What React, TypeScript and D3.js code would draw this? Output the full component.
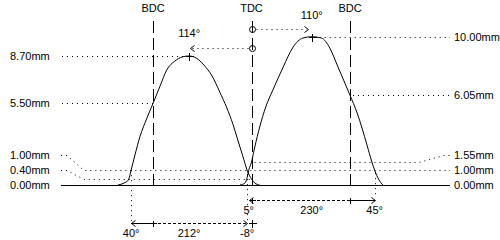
import React from 'react';
import * as d3 from 'd3';

// crank positions
const positionAngles = [-180, 0, 180];
const positionLabels = ['BDC', 'TDC', 'BDC'];

// exhaust lobe (left) : crank angle (deg, relative to TDC) vs lift (mm)
const exhaustAngle = [-244, -233, -225, -220, -213, -204, -191, -180, -167, -155, -140, -127, -114, -101, -87, -72, -58, -45, -34, -25, -16, -8, 0, 6, 15];
const exhaustLift = [0, 0.13, 0.34, 1.0, 2.02, 3.24, 4.52, 5.5, 6.68, 7.75, 8.36, 8.63, 8.7, 8.56, 8.09, 7.35, 6.27, 5.19, 4.11, 3.03, 1.96, 1.0, 0.4, 0.13, 0];

// intake lobe (right)
const intakeAngle = [-21, -12, -8, -5, 0, 6, 15, 26, 39, 58, 76, 94, 110, 128, 143, 158, 180, 193, 202, 211, 220, 225, 233, 240];
const intakeLift = [0, 0.13, 0.5, 1.0, 1.55, 2.56, 3.91, 5.26, 6.4, 7.96, 9.3, 9.91, 10, 9.91, 9.24, 7.96, 6.05, 4.86, 3.84, 2.7, 1.55, 1.0, 0.34, 0];

// events: open, peak, close
const exhaustEvents = [-220, -114, -8];
const exhaustEventLabels = ['40°', '114°', '-8°'];
const exhaustDurationLabel = '212°';
const intakeEvents = [-5, 110, 225];
const intakeEventLabels = ['5°', '110°', '45°'];
const intakeDurationLabel = '230°';

// lift tick labels
const leftLiftValues = [8.7, 5.5, 1.0, 0.4, 0];
const leftLiftLabels = ['8.70mm', '5.50mm', '1.00mm', '0.40mm', '0.00mm'];
const leftLeaderAngles = [-114, -180, 0, 0, NaN];
const rightLiftValues = [10, 6.05, 1.55, 1.0, 0];
const rightLiftLabels = ['10.00mm', '6.05mm', '1.55mm', '1.00mm', '0.00mm'];
const rightLeaderAngles = [110, 180, 0, 0, NaN];

const measureLift = 1.0;

const W = 500;
const H = 240;
const FONT = '"Liberation Sans", Arial, sans-serif';

const x = d3.scaleLinear().domain([-180, 180]).range([153, 350]);
const y = d3.scaleLinear().domain([0, 10]).range([185, 36.7]);

const c = (v: number) => Math.round(v) + 0.5;

function stackLabels(values: number[]): number[] {
  // values given top->bottom; place from bottom, min gap 15
  const ys = new Array(values.length);
  let prev = Infinity;
  for (let i = values.length - 1; i >= 0; i--) {
    const v = Math.min(y(values[i]), prev - 15);
    ys[i] = v;
    prev = v;
  }
  return ys;
}

const LEFT_LABEL_X = 10;
const LEFT_LINE_X = 61;
const RIGHT_LINE_X = 450;
const RIGHT_LABEL_X = 454;

function Plus({ cx, cy, r = 4 }: { cx: number; cy: number; r?: number }) {
  return (
    <path d={`M${c(cx) - r},${c(cy)}H${c(cx) + r}M${c(cx)},${c(cy) - r}V${c(cy) + r}`} stroke="#000" fill="none" shapeRendering="crispEdges" />
  );
}

function Arrow({ ax, ay, dir }: { ax: number; ay: number; dir: 1 | -1 }) {
  const X = Math.round(ax) + 0.5;
  const Y = c(ay);
  return <path d={`M${X - dir * 4},${Y - 3}L${X},${Y}L${X - dir * 4},${Y + 3}`} stroke="#000" fill="none" />;
}

export default function App() {
  const line = d3
    .line<[number, number]>()
    .x((d) => x(d[0]))
    .y((d) => y(d[1]))
    .curve(d3.curveMonotoneX);
  const exData = exhaustAngle.map((a, i) => [a, exhaustLift[i]] as [number, number]);
  const inData = intakeAngle.map((a, i) => [a, intakeLift[i]] as [number, number]);

  const leftYs = stackLabels(leftLiftValues);
  const rightYs = stackLabels(rightLiftValues);

  const baseY = c(y(0));
  const dotted = { stroke: '#000', strokeDasharray: '1,4', fill: 'none' } as const;
  const textProps = { fontFamily: FONT, fontSize: 11, fill: '#000' } as const;

  const exDimY = 223;
  const inDimY = 200;
  const measY = y(measureLift);

  const [exOpen, exPeak, exClose] = exhaustEvents;
  const [inOpen, inPeak, inClose] = intakeEvents;

  return (
    <svg width={W} height={H} style={{ position: 'absolute', left: 0, top: 0, background: '#fff' }}>
      <rect width={W} height={H} fill="#fff" />

      {/* crank position lines */}
      {positionAngles.map((a, i) => (
        <g key={'pos' + i}>
          <text x={x(a)} y={12} textAnchor="middle" {...textProps}>
            {positionLabels[i]}
          </text>
          <line x1={c(x(a))} x2={c(x(a))} y1={21} y2={baseY} stroke="#000" strokeDasharray="12,5" shapeRendering="crispEdges" />
        </g>
      ))}

      {/* baseline */}
      <line x1={LEFT_LINE_X} x2={RIGHT_LINE_X} y1={baseY} y2={baseY} stroke="#000" shapeRendering="crispEdges" />

      {/* left lift labels & leaders */}
      {leftLiftValues.map((v, i) => {
        const ly = leftYs[i];
        const vy = c(y(v));
        const a = leftLeaderAngles[i];
        let d = '';
        if (!isNaN(a)) {
          const xe = x(a);
          if (Math.abs(ly - y(v)) < 1) d = `M${LEFT_LINE_X + 1},${vy}H${xe}`;
          else d = `M${LEFT_LINE_X},${c(ly)}H${LEFT_LINE_X + 6}L${LEFT_LINE_X + 23},${vy}H${xe}`;
        }
        return (
          <g key={'ll' + i}>
            <text x={LEFT_LABEL_X} y={ly + 4} {...textProps}>
              {leftLiftLabels[i]}
            </text>
            {d && <path d={d} {...dotted} />}
          </g>
        );
      })}

      {/* right lift labels & leaders */}
      {rightLiftValues.map((v, i) => {
        const ly = rightYs[i];
        const vy = c(y(v));
        const a = rightLeaderAngles[i];
        let d = '';
        if (!isNaN(a)) {
          const xs = x(a) + 3;
          if (Math.abs(ly - y(v)) < 1) d = `M${xs},${vy}H${RIGHT_LINE_X}`;
          else d = `M${xs},${vy}H${RIGHT_LINE_X - 31}L${RIGHT_LINE_X - 6},${c(ly)}H${RIGHT_LINE_X}`;
        }
        return (
          <g key={'rl' + i}>
            <text x={RIGHT_LABEL_X} y={ly + 4} {...textProps}>
              {rightLiftLabels[i]}
            </text>
            {d && <path d={d} {...dotted} />}
          </g>
        );
      })}

      {/* lift curves */}
      <path d={line(exData) || ''} stroke="#000" fill="none" />
      <path d={line(inData) || ''} stroke="#000" fill="none" />

      {/* peak markers */}
      <Plus cx={x(exPeak)} cy={y(d3.max(exhaustLift) as number)} />
      <Plus cx={x(inPeak)} cy={y(d3.max(intakeLift) as number)} />

      {/* peak angle arrows from TDC */}
      <text x={x(inPeak)} y={19} textAnchor="middle" {...textProps}>
        {intakeEventLabels[1]}
      </text>
      <circle cx={c(x(0))} cy={29.5} r={3} stroke="#000" fill="none" />
      <path d={`M${c(x(0)) + 4},29.5H${x(inPeak) - 5}`} {...dotted} />
      <Arrow ax={x(inPeak) - 4} ay={29} dir={1} />

      <text x={x(exPeak)} y={37} textAnchor="middle" {...textProps}>
        {exhaustEventLabels[1]}
      </text>
      <circle cx={c(x(0))} cy={48.5} r={3} stroke="#000" fill="none" />
      <path d={`M${c(x(0)) - 4},48.5H${x(exPeak) + 2}`} {...dotted} />
      <Arrow ax={x(exPeak) + 1} ay={48} dir={-1} />

      {/* exhaust duration dimension */}
      <path d={`M${c(x(exOpen))},${measY}V${exDimY - 2}`} {...dotted} />
      <path d={`M${c(x(exClose))},${measY + 4}V${exDimY - 2}`} {...dotted} />
      <line x1={x(exOpen)} x2={x(-180)} y1={c(exDimY)} y2={c(exDimY)} stroke="#000" shapeRendering="crispEdges" />
      <line x1={x(-180)} x2={x(exClose)} y1={c(exDimY)} y2={c(exDimY)} stroke="#000" strokeDasharray="3,2" shapeRendering="crispEdges" />
      <Arrow ax={x(exOpen)} ay={exDimY} dir={-1} />
      <Arrow ax={x(exClose)} ay={exDimY} dir={1} />
      <Plus cx={x(-180)} cy={exDimY} r={3} />
      <Plus cx={x(0)} cy={exDimY} r={4} />
      <text x={x(exOpen)} y={exDimY + 14} textAnchor="middle" {...textProps}>
        {exhaustEventLabels[0]}
      </text>
      <text x={(x(exOpen) + x(exClose)) / 2} y={exDimY + 14} textAnchor="middle" {...textProps}>
        {exhaustDurationLabel}
      </text>
      <text x={x(exClose)} y={exDimY + 14} textAnchor="middle" {...textProps}>
        {exhaustEventLabels[2]}
      </text>

      {/* intake duration dimension */}
      <path d={`M${c(x(inClose))},${measY + 3}V${inDimY - 2}`} {...dotted} />
      <line x1={x(0)} x2={x(180)} y1={c(inDimY)} y2={c(inDimY)} stroke="#000" strokeDasharray="3,2" shapeRendering="crispEdges" />
      <line x1={x(180)} x2={x(inClose)} y1={c(inDimY)} y2={c(inDimY)} stroke="#000" shapeRendering="crispEdges" />
      <Arrow ax={x(inOpen)} ay={inDimY} dir={-1} />
      <Arrow ax={x(inClose)} ay={inDimY} dir={1} />
      <Plus cx={x(0)} cy={inDimY} r={3} />
      <Plus cx={x(180)} cy={inDimY} r={3} />
      <text x={x(inOpen)} y={inDimY + 14} textAnchor="middle" {...textProps}>
        {intakeEventLabels[0]}
      </text>
      <text x={(x(inOpen) + x(inClose)) / 2} y={inDimY + 14} textAnchor="middle" {...textProps}>
        {intakeDurationLabel}
      </text>
      <text x={x(inClose)} y={inDimY + 14} textAnchor="middle" {...textProps}>
        {intakeEventLabels[2]}
      </text>
    </svg>
  );
}
